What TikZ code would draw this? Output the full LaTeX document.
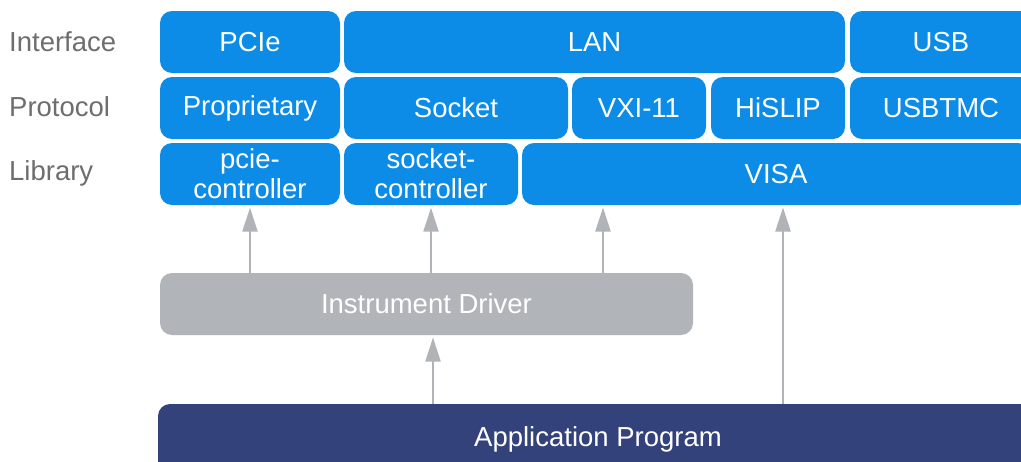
\documentclass[tikz,border=0pt]{standalone}
\usepackage{fontspec}
\setmainfont{Liberation Sans}
\usetikzlibrary{arrows.meta}
\definecolor{kblue}{RGB}{12,140,230}
\definecolor{kgray}{RGB}{177,181,186}
\definecolor{knavy}{RGB}{52,66,124}
\definecolor{klabel}{RGB}{110,110,110}
\definecolor{karrow}{RGB}{176,180,185}
\tikzset{
  x=1pt, y=-1pt,
  box/.style={rectangle, rounded corners=12pt, inner sep=0pt, text=white, font=\fontsize{27.5}{30}\selectfont, align=center},
  bluebox/.style={box, fill=kblue},
  graybox/.style={box, fill=kgray},
  navybox/.style={box, fill=knavy},
  rowlabel/.style={anchor=west, inner sep=0pt, text=klabel, font=\fontsize{27.5}{27.5}\selectfont},
  uparrow/.style={draw=karrow, line width=2.2pt, -{Triangle[width=15pt,length=24pt]}, shorten >=2.5pt}
}
\begin{document}
\begin{tikzpicture}
\clip (0,0) rectangle (1021,461);
\fill[white] (0,0) rectangle (1021,461);
% row labels
\node[rowlabel] (lint) at (9,42) {Interface};
\node[rowlabel] (lpro) at (9,107) {Protocol};
\node[rowlabel] (llib) at (9,173) {Library};
% interface row
\node[bluebox, minimum width=180pt, minimum height=62pt] (pcie) at (250,42) {PCIe};
\node[bluebox, minimum width=501pt, minimum height=62pt] (lan) at (594.5,42) {LAN};
\node[bluebox, minimum width=182pt, minimum height=62pt] (usb) at (941,42) {USB};
% protocol row
\node[bluebox, minimum width=180pt, minimum height=62pt] (prop) at (250,108) {Proprietary};
\node[bluebox, minimum width=224pt, minimum height=62pt] (sock) at (456,108) {Socket};
\node[bluebox, minimum width=134pt, minimum height=62pt] (vxi) at (639,108) {VXI-11};
\node[bluebox, minimum width=134pt, minimum height=62pt] (hislip) at (778,108) {HiSLIP};
\node[bluebox, minimum width=182pt, minimum height=62pt] (usbtmc) at (941,108) {USBTMC};
% library row
\node[bluebox, minimum width=180pt, minimum height=62pt] (pciec) at (250,174) {pcie-\\controller};
\node[bluebox, minimum width=174pt, minimum height=62pt] (sockc) at (431,174) {socket-\\controller};
\node[bluebox, minimum width=508pt, minimum height=62pt] (visa) at (776,174) {VISA};
% driver and application
\node[graybox, minimum width=533pt, minimum height=62pt] (drv) at (426.5,304) {Instrument Driver};
\node[navybox, minimum width=880pt, minimum height=70pt] (app) at (598,439) {Application Program};
% arrows
\draw[uparrow] (drv.north -| pciec.south) -- (pciec.south);
\draw[uparrow] (drv.north -| sockc.south) -- (sockc.south);
\coordinate (v1) at (603,205);
\draw[uparrow] (drv.north -| v1) -- (v1);
\coordinate (d1) at (433,335);
\draw[uparrow] (app.north -| d1) -- (d1);
\coordinate (v2) at (783,205);
\draw[uparrow] (app.north -| v2) -- (v2);
\end{tikzpicture}
\end{document}
